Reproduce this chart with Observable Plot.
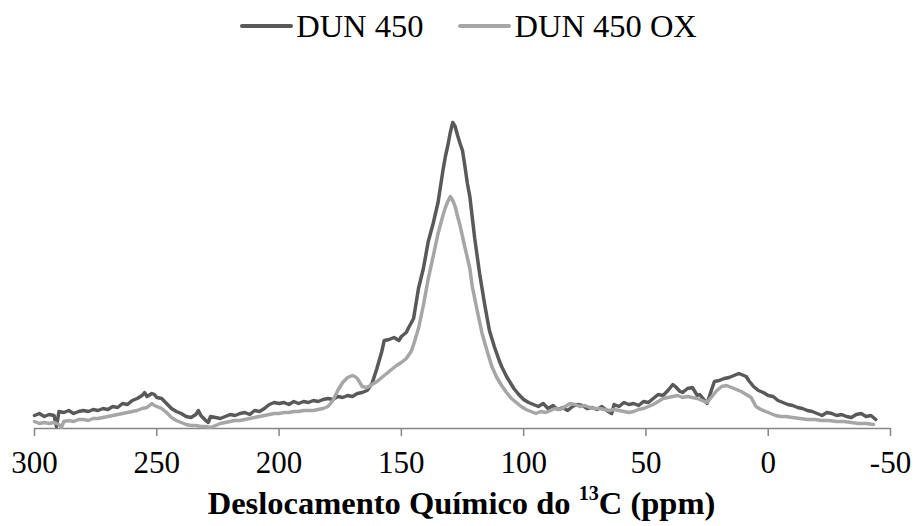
<!DOCTYPE html>
<html>
<head>
<meta charset="utf-8">
<script src="https://cdn.jsdelivr.net/npm/d3@7"></script>
<script src="https://cdn.jsdelivr.net/npm/@observablehq/plot@0.6"></script>
<style>
  html, body { margin: 0; padding: 0; background: #fff; }
  body { width: 915px; height: 526px; overflow: hidden; font-family: "Liberation Serif", "Times New Roman", serif; }
  #legend { height: 52px; display: flex; justify-content: center; align-items: center; font-size: 32.5px; color: #000; padding-left: 22px; }
  .item { display: flex; align-items: center; margin: 0 17.5px; }
  .sw { width: 53px; height: 4px; border-radius: 2px; margin-right: 3px; }
  #title { height: 46px; line-height: 46px; text-align: center; font-weight: bold; font-size: 32.5px; padding-left: 8px; }
  #title sup { font-size: 0.62em; line-height: 0; position: relative; top: -0.1em; vertical-align: super; }
  svg [aria-label="x-axis tick"] { stroke: #868686; stroke-width: 1.5; }
</style>
</head>
<body>
<div id="legend"></div>
<div id="chart"></div>
<div id="title">Deslocamento Químico do <sup>13</sup>C (ppm)</div>
<script>
const seriesNames = ["DUN 450", "DUN 450 OX"];
const seriesColors = ["#595959", "#a6a6a6"];
const xTicks = [300, 250, 200, 150, 100, 50, 0, -50];
const xTickLabels = ["300", "250", "200", "150", "100", "50", "0", "-50"];

const dunPpm = [300,298,296,294,292,291,290,288,286,284,282,280,278,276,274,272,270,268,266,264,262,260,258,256,255,254,252,251,250,248,246,244,242,240,238,236,234,233,232,230,229,228,226,224,222,220,218,216,214,212,210,208,206,204,202,200,198,196,194,192,190,188,186,184,182,180,178,176,174,172,170,168,166,164,162,160,158,157,155,153,151,150,148,147,145,143,141,139,137,135,133,132,131,130,129,128,127,126,125,124,123,122,120,118,117,116,114,112,110,109,107,105,104,102,100,98,96,94,92,90,88,86,84,82,80,78,76,74,72,70,68,66,64,63,61,59,57,55,53,51,49,47,45,43,41,39,38,36,35,33,31,29,28,26,25,23,22,20,18,16,14,12,11,9,8,6,4,2,0,-2,-4,-6,-8,-10,-12,-14,-16,-18,-20,-22,-24,-26,-28,-30,-32,-34,-36,-38,-40,-42,-44];
const dunVal = [13,15,12,14,13,2,17,16,18,15,17,18,17,19,18,20,19,22,21,25,24,28,30,33,36,32,35,34,31,30,25,20,17,15,12,11,14,18,13,8,6,12,11,10,12,14,13,15,16,14,18,17,20,24,26,25,26,24,27,25,27,26,28,27,29,30,29,32,31,33,32,35,36,38,45,60,77,88,89,91,88,92,96,101,110,140,160,187,205,226,258,272,283,296,306,302,293,285,278,262,245,232,190,155,140,125,98,82,68,62,52,44,40,34,29,26,24,22,25,20,23,19,21,18,22,24,23,20,21,19,22,18,15,24,22,26,24,25,23,27,26,30,34,33,38,44,42,37,36,40,41,33,34,28,25,40,47,48,50,51,53,55,54,52,48,42,38,36,33,32,28,26,24,23,21,20,18,17,15,13,16,15,13,14,12,11,14,15,12,13,9];

const oxPpm = [300,298,296,294,292,290,289,288,286,284,282,280,278,276,274,272,270,268,266,264,262,260,258,256,254,252,251,250,248,246,244,242,240,238,236,234,232,230,228,226,224,222,220,218,216,214,212,210,208,206,204,202,200,198,196,194,192,190,188,186,184,182,180,178,176,174,172,170,169,168,166,164,162,160,158,156,154,152,150,148,146,145,143,141,139,137,135,133,132,131,130,129,128,127,126,125,124,122,121,119,117,115,113,111,109,107,105,103,101,99,97,95,93,91,89,87,85,83,81,79,77,75,73,71,69,67,65,63,61,59,57,55,53,51,49,47,45,43,41,39,37,35,33,31,29,27,25,23,21,19,17,15,13,11,9,7,5,3,1,-1,-3,-5,-7,-10,-13,-16,-19,-22,-25,-28,-31,-34,-37,-40,-43];
const oxVal = [7,5,6,5,6,4,1,7,8,7,9,9,8,10,10,11,12,13,14,15,16,17,18,20,21,25,23,22,20,16,11,8,6,4,3,3,2,2,1,3,5,6,7,8,8,9,10,11,12,13,14,15,15,16,16,17,17,18,18,18,19,20,22,28,38,46,51,53,52,50,42,41,44,47,51,55,59,63,66,70,77,84,100,123,150,172,195,213,221,227,232,228,222,212,203,192,181,160,142,118,95,78,62,51,43,36,30,26,22,19,17,15,17,16,18,20,19,22,25,24,22,23,21,20,20,19,18,19,18,17,16,17,19,20,22,24,27,30,31,32,33,31,32,31,30,28,26,32,38,42,43,41,39,37,34,31,22,19,17,15,13,12,12,11,10,9,9,8,8,7,7,6,5,5,4];

const data = [
  ...dunPpm.map((p, i) => ({ppm: p, v: dunVal[i], s: seriesNames[0]})),
  ...oxPpm.map((p, i) => ({ppm: p, v: oxVal[i], s: seriesNames[1]}))
];

// legend
const legend = document.getElementById("legend");
seriesNames.forEach((n, i) => {
  const it = document.createElement("div");
  it.className = "item";
  it.innerHTML = `<span class="sw" style="background:${seriesColors[i]}"></span><span>${n}</span>`;
  legend.appendChild(it);
});

const chart = Plot.plot({
  width: 915,
  height: 428,
  marginLeft: 34,
  marginRight: 25,
  marginTop: 66,
  marginBottom: 52,
  style: { fontFamily: "'Liberation Serif', 'Times New Roman', serif", fontSize: "31px", color: "#000", background: "#fff" },
  x: { domain: [300, -50], ticks: xTicks, tickFormat: d => xTickLabels[xTicks.indexOf(d)], tickSize: 8, tickPadding: 14, label: null },
  y: { domain: [0, 310], axis: null },
  color: { domain: seriesNames, range: seriesColors },
  marks: [
    Plot.ruleY([0], { stroke: "#868686", strokeWidth: 1.5 }),
    Plot.line(data, { x: "ppm", y: "v", z: "s", stroke: "s", strokeWidth: 3.5, strokeLinejoin: "round", strokeLinecap: "round" })
  ]
});
document.getElementById("chart").appendChild(chart);
</script>
</body>
</html>
